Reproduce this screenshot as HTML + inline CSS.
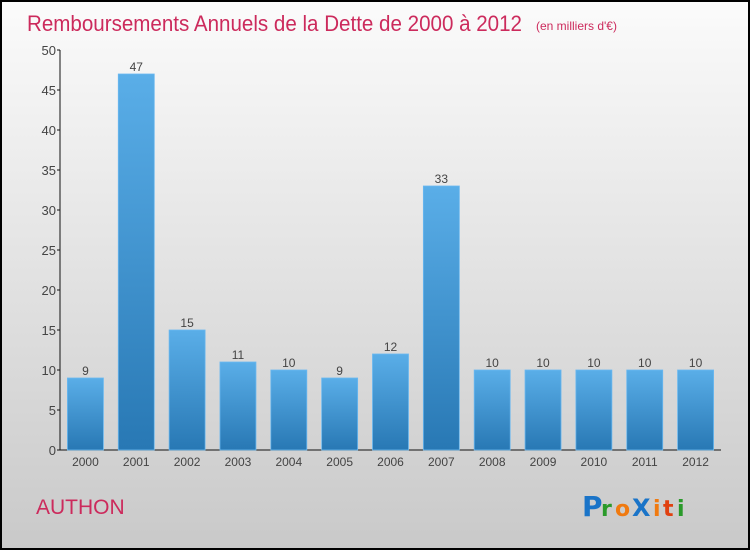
<!DOCTYPE html>
<html><head><meta charset="utf-8"><style>
html,body{margin:0;padding:0}
body{width:750px;height:550px;overflow:hidden;font-family:"Liberation Sans",sans-serif}
</style></head><body>
<svg id="chart" width="750" height="550" xmlns="http://www.w3.org/2000/svg">
<defs>
<linearGradient id="bg" x1="0" y1="0" x2="0" y2="1"><stop offset="0" stop-color="#fbfbfb"/><stop offset="1" stop-color="#c9c9c9"/></linearGradient>
<linearGradient id="bar" x1="0" y1="0" x2="0" y2="1"><stop offset="0" stop-color="#5aaee8"/><stop offset="1" stop-color="#2878b4"/></linearGradient>
</defs>
<rect x="1" y="1" width="748" height="548" fill="url(#bg)" stroke="#000" stroke-width="2"/>
<text x="27" y="31" font-size="22" fill="#cc2a5c" textLength="495" lengthAdjust="spacingAndGlyphs">Remboursements Annuels de la Dette de 2000 à 2012</text>
<text x="536" y="30" font-size="12" fill="#cc2a5c">(en milliers d'€)</text>
<text x="36" y="514" font-size="21" fill="#cc2a5c">AUTHON</text>
<g font-size="28" font-family="'DejaVu Sans',sans-serif" font-weight="bold">
<text x="582" y="516" fill="#1a74c8">P</text><text x="601" y="516" fill="#2a9a2a" font-size="22">r</text><text x="615" y="516" fill="#f07a10" font-size="22">o</text><text x="632" y="516" fill="#1a74c8" font-size="24">X</text><text x="653" y="516" fill="#f07a10" font-size="22">i</text><text x="663" y="516" fill="#e04010" font-size="22">t</text><text x="677" y="516" fill="#2a9a2a" font-size="22">i</text>
</g>
<g id="plot"></g>
</svg>
<script>
const categories=["2000","2001","2002","2003","2004","2005","2006","2007","2008","2009","2010","2011","2012"];
const values=[9,47,15,11,10,9,12,33,10,10,10,10,10];
const yTicks=[0,5,10,15,20,25,30,35,40,45,50];
const NS="http://www.w3.org/2000/svg";
const g=document.getElementById("plot");
const x0=60,x1=721,yBase=450,yTop=50,yMax=50;
const step=(x1-x0)/categories.length;
const y=v=>yBase-(v/yMax)*(yBase-yTop);
const xc=i=>x0+step*(i+0.5);
function el(t,a){const e=document.createElementNS(NS,t);for(const k in a)e.setAttribute(k,a[k]);g.appendChild(e);return e;}
const ax=el("line",{x1:x0,y1:yTop,x2:x0,y2:yBase,stroke:"#111","stroke-width":1});


const bx=el("line",{x1:x0,y1:yBase,x2:x1,y2:yBase,stroke:"#111","stroke-width":1});


yTicks.forEach(t=>{
 const tk=el("line",{x1:x0-3,y1:y(t),x2:x0,y2:y(t),stroke:"#111"});
 
 
 const tl=el("text",{x:x0-4,y:y(t)+5,"font-size":13,fill:"#444","text-anchor":"end"});
 tl.textContent=t;
 
 
});
categories.forEach((c,i)=>{
 const w=36,v=values[i];
 const r=el("rect",{x:xc(i)-w/2,y:y(v),width:w,height:yBase-y(v),fill:"url(#bar)",stroke:"#6ab8f0","stroke-width":0.8});
 
 
 const vl=el("text",{x:xc(i),y:y(v)-3,"font-size":12,fill:"#444","text-anchor":"middle"});
 vl.textContent=v;
 
 
 const xl=el("text",{x:xc(i),y:466,"font-size":12,fill:"#444","text-anchor":"middle"});
 xl.textContent=c;
 
 
});
</script>
</body></html>
